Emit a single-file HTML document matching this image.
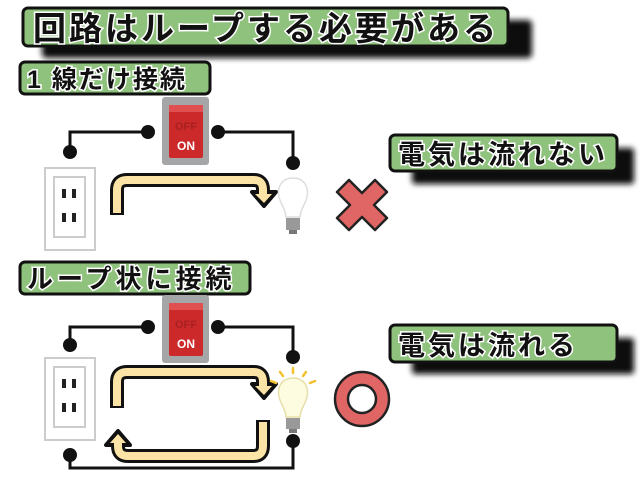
<!DOCTYPE html>
<html><head><meta charset="utf-8"><style>
html,body{margin:0;padding:0;background:#fff;width:640px;height:480px;overflow:hidden}
svg{display:block}
.t{font-family:"Liberation Sans","Noto Sans CJK JP",sans-serif;font-weight:bold;paint-order:stroke;stroke:#fff;stroke-width:3px;fill:#111}
</style></head><body>
<svg width="640" height="480" viewBox="0 0 640 480" xmlns="http://www.w3.org/2000/svg">
<defs>
<filter id="bl" x="-20%" y="-50%" width="140%" height="200%"><feGaussianBlur stdDeviation="3"/></filter>
<g id="outlet">
<rect x="45" y="0" width="50" height="82" fill="#fff" stroke="#ccc" stroke-width="2"/>
<rect x="54" y="9" width="31" height="60" fill="#fff" stroke="#ccc" stroke-width="2"/>
<rect x="62" y="21" width="4" height="9" fill="#222"/><rect x="72" y="21" width="4" height="9" fill="#222"/>
<rect x="62" y="45" width="4" height="9" fill="#222"/><rect x="72" y="45" width="4" height="9" fill="#222"/>
</g>
<g id="sw">
<rect x="162" y="0" width="47" height="68" rx="3" fill="#a4a6a8"/>
<rect x="169" y="8" width="34" height="53" rx="2" fill="#cc2a2a"/>
<rect x="169" y="8" width="34" height="7" fill="#e05050"/>
<text x="186" y="33" font-family="Liberation Sans" font-weight="bold" font-size="11" fill="#a82020" text-anchor="middle">OFF</text>
<text x="186" y="53" font-family="Liberation Sans" font-weight="bold" font-size="12" fill="#fff" text-anchor="middle">ON</text>
</g>
</defs>

<!-- title -->
<rect x="42" y="20" width="490" height="38" rx="4" fill="#111" filter="url(#bl)"/>
<rect x="23" y="8" width="485" height="38" rx="5" fill="#8fc27c" stroke="#111" stroke-width="3"/>
<text class="t" x="33" y="40" font-size="33" letter-spacing="3" stroke-width="4">回路はループする必要がある</text>

<!-- section 1 -->
<rect x="20" y="62" width="190" height="32" rx="5" fill="#8fc27c" stroke="#111" stroke-width="3"/>
<text class="t" x="27" y="88" font-size="25" letter-spacing="2">1 線だけ接続</text>

<use href="#sw" y="97"/>
<polyline points="148,132 70,132 70,152" fill="none" stroke="#111" stroke-width="3"/>
<polyline points="218,132 293,132 293,163" fill="none" stroke="#111" stroke-width="3"/>
<circle cx="148" cy="132" r="7" fill="#111"/><circle cx="218" cy="132" r="7" fill="#111"/>
<circle cx="70" cy="152" r="7" fill="#111"/><circle cx="293" cy="163" r="7" fill="#111"/>
<use href="#outlet" y="168"/>
<!-- arrow 1 -->
<path d="M117,215 V190 Q117,180 127,180 H254 Q263,180 263,190 V194" fill="none" stroke="#111" stroke-width="14"/>
<polygon points="252,192 276,192 264,206" fill="#111" stroke="#111" stroke-width="4" stroke-linejoin="round"/>
<path d="M117,213 V190 Q117,180 127,180 H254 Q263,180 263,190 V195" fill="none" stroke="#fbe4a6" stroke-width="8"/>
<polygon points="255,194 272,194 264,203" fill="#fbe4a6"/>
<!-- bulb 1 -->
<path d="M293,178 C281,178 277,188 279,197 C281,205 286,210 286,217 H300 C300,210 305,205 307,197 C309,188 305,178 293,178Z" fill="#fff" stroke="#ddd" stroke-width="1.5"/>
<rect x="286" y="218" width="14" height="12" fill="#999"/>
<rect x="289" y="230" width="8" height="4" fill="#777"/>

<!-- X -->
<path d="M349,180 L362,193 L375,180 L387,192 L374,205 L387,218 L375,230 L362,217 L349,230 L337,218 L350,205 L337,192Z" fill="#e06666" stroke="#222" stroke-width="2.5" stroke-linejoin="round"/>

<!-- label 1 -->
<rect x="412" y="148" width="222" height="36" rx="3" fill="#111" filter="url(#bl)"/>
<rect x="390" y="135" width="227" height="36" rx="5" fill="#8fc27c" stroke="#111" stroke-width="3"/>
<text class="t" x="398" y="164" font-size="27" letter-spacing="3">電気は流れない</text>

<!-- section 2 -->
<rect x="20" y="262" width="230" height="32" rx="5" fill="#8fc27c" stroke="#111" stroke-width="3"/>
<text class="t" x="27" y="288" font-size="26" letter-spacing="4">ループ状に接続</text>

<use href="#sw" y="295"/>
<polyline points="148,327 70,327 70,345" fill="none" stroke="#111" stroke-width="3"/>
<polyline points="218,327 293,327 293,357" fill="none" stroke="#111" stroke-width="3"/>
<polyline points="70,455 70,468 293,468 293,441" fill="none" stroke="#111" stroke-width="3"/>
<circle cx="148" cy="327" r="7" fill="#111"/><circle cx="218" cy="327" r="7" fill="#111"/>
<circle cx="70" cy="345" r="7" fill="#111"/><circle cx="293" cy="357" r="7" fill="#111"/>
<circle cx="70" cy="455" r="7" fill="#111"/><circle cx="293" cy="441" r="7" fill="#111"/>
<use href="#outlet" y="358"/>
<!-- loop arrows -->
<path d="M117,408 V382 Q117,372 127,372 H254 Q263,372 263,382 V386" fill="none" stroke="#111" stroke-width="14"/>
<polygon points="252,384 276,384 264,398" fill="#111" stroke="#111" stroke-width="4" stroke-linejoin="round"/>
<path d="M117,406 V382 Q117,372 127,372 H254 Q263,372 263,382 V387" fill="none" stroke="#fbe4a6" stroke-width="8"/>
<polygon points="255,386 272,386 264,395" fill="#fbe4a6"/>
<path d="M263,420 V446 Q263,456 253,456 H128 Q118,456 118,446 V444" fill="none" stroke="#111" stroke-width="14"/>
<polygon points="106,445 130,445 118,431" fill="#111" stroke="#111" stroke-width="4" stroke-linejoin="round"/>
<path d="M263,422 V446 Q263,456 253,456 H128 Q118,456 118,446 V443" fill="none" stroke="#fbe4a6" stroke-width="8"/>
<polygon points="110,443 126,443 118,434" fill="#fbe4a6"/>
<!-- bulb 2 -->
<g stroke="#f2c230" stroke-width="2.5" stroke-linecap="round">
<line x1="293" y1="368" x2="293" y2="373"/><line x1="280" y1="372" x2="283" y2="376"/><line x1="306" y1="372" x2="303" y2="376"/>
<line x1="271" y1="381" x2="276" y2="383"/><line x1="315" y1="381" x2="310" y2="383"/>
</g>
<path d="M293,378 C281,378 277,388 279,397 C281,405 286,410 286,417 H300 C300,410 305,405 307,397 C309,388 305,378 293,378Z" fill="#fdfbe0" stroke="#e6dfa8" stroke-width="1.5"/>
<rect x="286" y="418" width="14" height="11" fill="#999"/>
<rect x="289" y="429" width="8" height="4" fill="#777"/>

<!-- O -->
<circle cx="362" cy="399" r="27" fill="#e06666" stroke="#222" stroke-width="2.5"/>
<circle cx="362" cy="399" r="14" fill="#fff" stroke="#222" stroke-width="2.5"/>

<!-- label 2 -->
<rect x="412" y="338" width="222" height="36" rx="3" fill="#111" filter="url(#bl)"/>
<rect x="390" y="325" width="227" height="37" rx="5" fill="#8fc27c" stroke="#111" stroke-width="3"/>
<text class="t" x="398" y="355" font-size="27" letter-spacing="3">電気は流れる</text>
</svg>
</body></html>
